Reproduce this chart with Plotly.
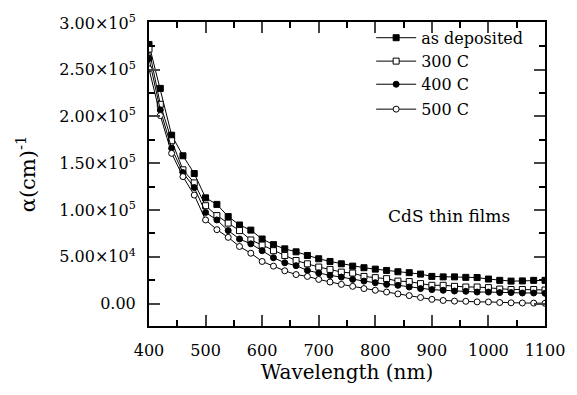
import plotly.graph_objects as go

wavelength = list(range(400, 1101, 20))

as_deposited = [277, 230, 180, 158, 139, 113, 106, 93, 84, 78.5, 69, 63, 58.5, 55.3, 51.4, 47.9,
                45, 42.5, 40, 38.3, 36.8, 35.4, 34, 33, 31.5, 29, 28.5, 28.5, 28, 27.8, 26.2, 24.8,
                24, 24.2, 24.8, 24.8]
c300 = [272, 213, 174, 143, 129, 104.6, 94, 86, 78, 68, 62.5, 56.5, 51.4, 46, 42.5, 39,
        36.5, 33.6, 32.6, 29, 27.7, 26.6, 24, 23.5, 21.3, 19.5, 19.5, 18.4, 17.7, 17.7, 17, 15.5,
        15, 15, 15, 14.5]
c400 = [262, 207, 166, 140, 124, 97.4, 89.4, 78, 69, 63.8, 56.5, 49, 43.6, 40.5, 35.4, 32.6,
        30.1, 28.3, 25.8, 24, 22.3, 20.5, 19.5, 17.7, 16, 14.9, 14.2, 13.4, 13.1, 12.3, 12.3, 11.7,
        11.7, 11.3, 11.3, 11]
c500 = [251, 201, 160.6, 135.7, 116, 89.4, 79, 70.8, 61, 53.8, 45, 40, 35, 31, 29, 25.8,
        23, 20.5, 18.4, 16, 14.2, 12.3, 10.3, 8.5, 6.5, 4.5, 3.3, 2.6, 2.4, 1.8, 1.7, 1.1,
        0.8, 0.6, 0.5, 0.3]

series = [
    ("as deposited", as_deposited, "square", "black"),
    ("300 C", c300, "square", "white"),
    ("400 C", c400, "circle", "black"),
    ("500 C", c500, "circle", "white"),
]

ytick_vals = [0, 50000, 100000, 150000, 200000, 250000, 300000]
ytick_text = ["0.00", "5.00×10<sup>4</sup>", "1.00×10<sup>5</sup>", "1.50×10<sup>5</sup>",
              "2.00×10<sup>5</sup>", "2.50×10<sup>5</sup>", "3.00×10<sup>5</sup>"]
xtick_vals = [400, 500, 600, 700, 800, 900, 1000, 1100]

FONT = "DejaVu Serif"
legend_ids = ["legend", "legend2", "legend3", "legend4"]
legend_rows = [0.948, 0.871, 0.795, 0.713]

fig = go.Figure()
for (name, vals, sym, fill), lid in zip(series, legend_ids):
    fig.add_trace(go.Scatter(
        x=wavelength, y=[v * 1000 for v in vals], name=name, mode="lines+markers",
        line=dict(color="black", width=1), legend=lid,
        marker=dict(symbol=sym, size=6, color=fill, line=dict(color="black", width=1)),
    ))

fig.add_annotation(x=0.758, y=0.363, xref="paper", yref="paper", text="CdS thin films",
                   xanchor="center", yanchor="middle",
                   showarrow=False, font=dict(family=FONT, size=17, color="black"))

legend_common = dict(x=0.561, xanchor="left", yanchor="middle", bgcolor="rgba(0,0,0,0)",
                     font=dict(family=FONT, size=16, color="black"), itemwidth=40)
layout_legends = {lid: dict(legend_common, y=yr) for lid, yr in zip(legend_ids, legend_rows)}

fig.update_layout(
    width=577, height=395,
    margin=dict(l=149, r=31, t=20, b=69),
    paper_bgcolor="white", plot_bgcolor="white",
    font=dict(family=FONT, size=16, color="black"),
    showlegend=True,
    **layout_legends,
    xaxis=dict(range=[400, 1100], tickvals=xtick_vals, ticks="inside", ticklen=11, tickwidth=2,
               showline=True, linewidth=2, linecolor="black", mirror="ticks", showgrid=False,
               zeroline=False, tickfont=dict(family=FONT, size=16, color="black"),
               ticklabelstandoff=9,
               title=dict(text="Wavelength (nm)", font=dict(family=FONT, size=20, color="black"),
                          standoff=5),
               minor=dict(ticks="inside", ticklen=6, dtick=50, tickwidth=2, tickcolor="black")),
    yaxis=dict(range=[-24000, 301000], tickvals=ytick_vals, ticktext=ytick_text, ticks="inside",
               ticklen=11, tickwidth=2, showline=True, linewidth=2, linecolor="black",
               mirror="ticks", showgrid=False, zeroline=False,
               tickfont=dict(family=FONT, size=16, color="black"), ticklabelstandoff=8,
               title=dict(text="α(cm)<sup>-1</sup>", font=dict(family=FONT, size=21, color="black"),
                          standoff=18),
               minor=dict(ticks="inside", ticklen=6, dtick=25000, tick0=0, tickwidth=2,
                          tickcolor="black")),
)

fig.write_html("out.html")
